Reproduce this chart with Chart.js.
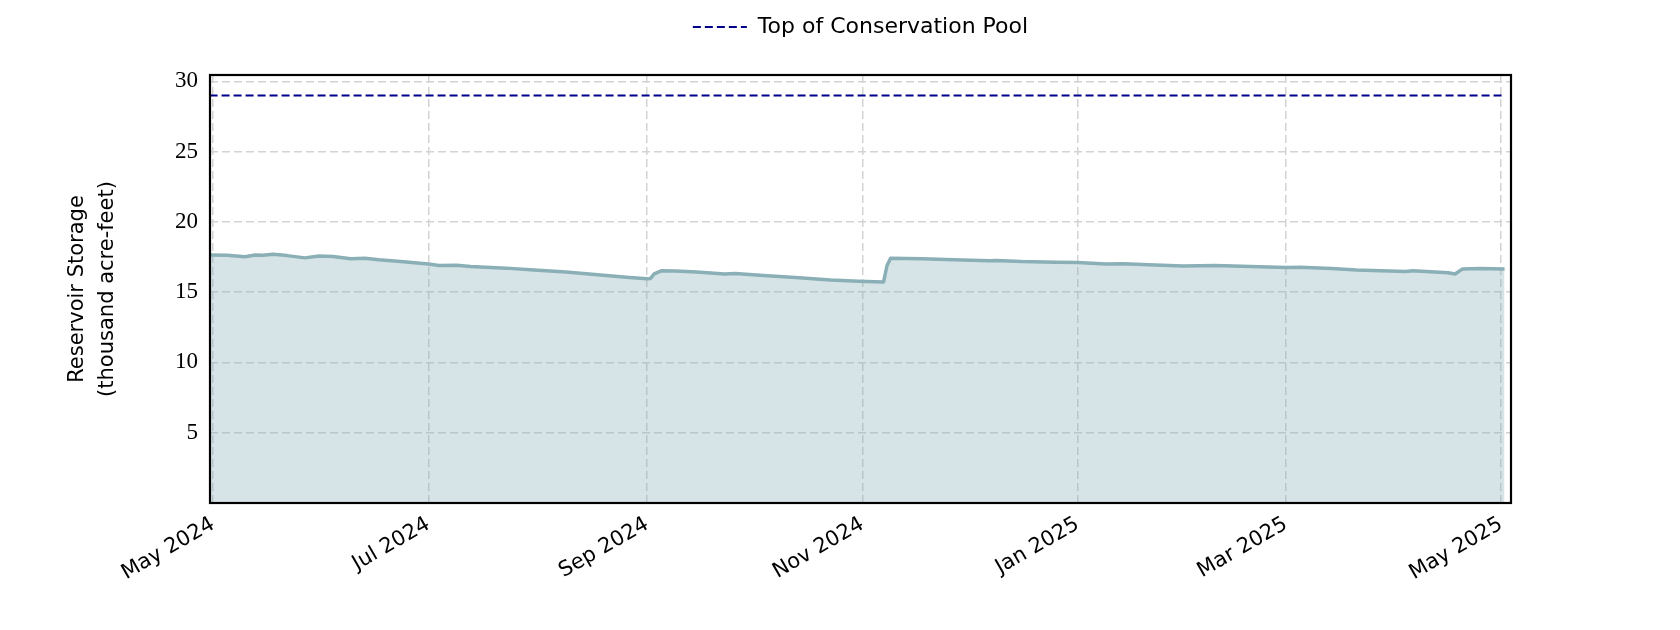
<!DOCTYPE html>
<html>
<head>
<meta charset="utf-8">
<script src="https://cdn.jsdelivr.net/npm/chart.js@4.4.1/dist/chart.umd.min.js"></script>
<style>
  html, body { margin: 0; padding: 0; background: #fff; }
</style>
</head>
<body>
<canvas id="storageChart" width="1680" height="630"></canvas>
<script>
// daily storage readings, thousand acre-feet
const dates = [
    '2024-04-30', '2024-05-05', '2024-05-10', '2024-05-13', '2024-05-15', '2024-05-18',
    '2024-05-22', '2024-05-27', '2024-05-31', '2024-06-04', '2024-06-09', '2024-06-13',
    '2024-06-17', '2024-06-24', '2024-07-01', '2024-07-04', '2024-07-09', '2024-07-13',
    '2024-07-23', '2024-07-31', '2024-08-09', '2024-08-18', '2024-08-27', '2024-09-01',
    '2024-09-02', '2024-09-03', '2024-09-05', '2024-09-09', '2024-09-15', '2024-09-23',
    '2024-09-26', '2024-10-04', '2024-10-13', '2024-10-23', '2024-10-31', '2024-11-07',
    '2024-11-08', '2024-11-09', '2024-11-18', '2024-11-27', '2024-12-07', '2024-12-09',
    '2024-12-16', '2024-12-26', '2025-01-01', '2025-01-09', '2025-01-14', '2025-01-23',
    '2025-01-31', '2025-02-09', '2025-02-19', '2025-03-01', '2025-03-05', '2025-03-14',
    '2025-03-21', '2025-03-28', '2025-04-04', '2025-04-06', '2025-04-16', '2025-04-18',
    '2025-04-20', '2025-04-25', '2025-05-02'
];
const storage = [
    17.64, 17.63, 17.52, 17.65, 17.62, 17.69,
    17.60, 17.44, 17.58, 17.53, 17.37, 17.42,
    17.30, 17.16, 17.01, 16.90, 16.92, 16.82,
    16.71, 16.57, 16.43, 16.24, 16.05, 15.95,
    15.98, 16.30, 16.52, 16.51, 16.43, 16.29,
    16.33, 16.19, 16.05, 15.86, 15.77, 15.72,
    16.90, 17.42, 17.37, 17.30, 17.23, 17.26,
    17.18, 17.13, 17.11, 17.01, 17.03, 16.94,
    16.87, 16.89, 16.82, 16.75, 16.77, 16.68,
    16.57, 16.52, 16.47, 16.52, 16.38, 16.29,
    16.64, 16.68, 16.65
];

const poolDates = ['2024-04-30', '2025-05-02'];
const poolLevel = 29;

const monthTicks = ['2024-05-01', '2024-07-01', '2024-09-01', '2024-11-01', '2025-01-01', '2025-03-01', '2025-05-01'];
const monthLabels = ['May 2024', 'Jul 2024', 'Sep 2024', 'Nov 2024', 'Jan 2025', 'Mar 2025', 'May 2025'];
const yTicks = [5, 10, 15, 20, 25, 30];

const xMin = Date.parse('2024-04-30T03:00:00Z');
const xMax = Date.parse('2025-05-03T20:00:00Z');

const sansFont = "'DejaVu Sans', sans-serif";

// black box around the plot area
const frame = {
    id: 'frame',
    afterDatasetsDraw(chart) {
        const { ctx, chartArea: a } = chart;
        ctx.save();
        ctx.strokeStyle = '#000';
        ctx.lineWidth = 2.2;
        ctx.strokeRect(a.left, a.top, a.right - a.left, a.bottom - a.top);
        ctx.restore();
    }
};

const ctx = document.getElementById('storageChart').getContext('2d');

new Chart(ctx, {
    type: 'line',
    data: {
        datasets: [
            {
                label: 'Storage',
                data: dates.map((d, i) => ({ x: Date.parse(d), y: storage[i] })),
                borderColor: '#8aafb6',
                backgroundColor: 'rgba(130,170,180,0.32)',
                borderWidth: 3.5,
                borderJoinStyle: 'round',
                fill: 'origin',
                pointRadius: 0,
                tension: 0
            },
            {
                label: 'Top of Conservation Pool',
                data: poolDates.map(d => ({ x: Date.parse(d), y: poolLevel })),
                borderColor: '#00008b',
                borderWidth: 2,
                borderDash: [8, 4],
                fill: false,
                pointRadius: 0
            }
        ]
    },
    options: {
        responsive: false,
        animation: false,
        devicePixelRatio: 1,
        layout: { padding: { top: 12, left: 0, right: 169, bottom: 0 } },
        plugins: {
            title: {
                // empty spacer between legend and plot
                display: true,
                text: '',
                weight: 500,
                font: { size: 10, lineHeight: 1 },
                padding: { top: 0, bottom: 17 }
            },
            legend: {
                position: 'top',
                fullSize: false,
                labels: {
                    usePointStyle: true,
                    pointStyleWidth: 54,
                    padding: 4,
                    color: '#000',
                    font: { family: sansFont, size: 22 },
                    generateLabels: chart => {
                        const ds = chart.data.datasets[1];
                        return [{
                            text: ds.label,
                            strokeStyle: ds.borderColor,
                            fillStyle: ds.borderColor,
                            lineWidth: ds.borderWidth,
                            lineDash: ds.borderDash,
                            pointStyle: 'line',
                            fontColor: '#000',
                            datasetIndex: 1,
                            hidden: false
                        }];
                    }
                }
            },
            tooltip: { enabled: false }
        },
        scales: {
            x: {
                type: 'linear',
                min: xMin,
                max: xMax,
                afterBuildTicks: scale => {
                    scale.ticks = monthTicks.map(d => ({ value: Date.parse(d) }));
                },
                afterFit: scale => {
                    scale.height = 127;
                    scale.paddingLeft = 0;
                    scale.paddingRight = 0;
                },
                ticks: {
                    autoSkip: false,
                    minRotation: 30,
                    maxRotation: 30,
                    padding: 9,
                    color: '#000',
                    font: { family: sansFont, size: 21 },
                    callback: (v, i) => monthLabels[i]
                },
                grid: { color: '#d3d3d3', lineWidth: 1.5, drawTicks: false },
                border: { display: false, dash: [8, 4] }
            },
            y: {
                min: 0,
                max: 30.45,
                afterBuildTicks: scale => {
                    scale.ticks = yTicks.map(v => ({ value: v }));
                },
                afterFit: scale => {
                    scale.width = 210;
                    scale.paddingTop = 0;
                    scale.paddingBottom = 0;
                },
                ticks: {
                    padding: 12,
                    color: '#000',
                    font: { family: "'Liberation Serif', serif", size: 23 }
                },
                grid: { color: '#d3d3d3', lineWidth: 1.5, drawTicks: false },
                border: { display: false, dash: [8, 4] },
                title: {
                    display: true,
                    text: ['Reservoir Storage', '(thousand acre-feet)'],
                    color: '#000',
                    font: { family: sansFont, size: 21, lineHeight: 1.45 },
                    padding: { top: 62, bottom: 0 }
                }
            }
        }
    },
    plugins: [frame]
});
</script>
</body>
</html>
